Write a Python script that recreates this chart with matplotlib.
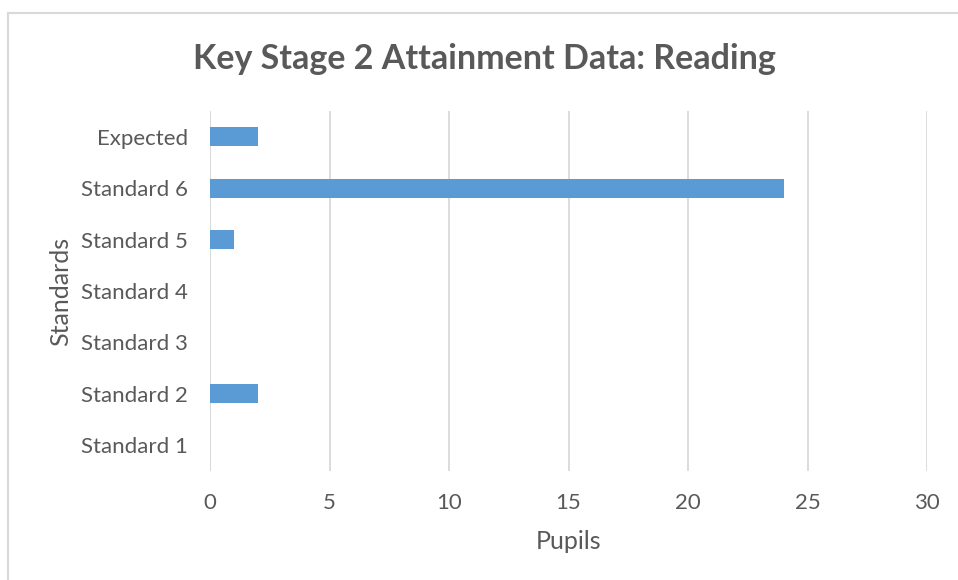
import numpy as np
import matplotlib.pyplot as plt
from matplotlib.lines import Line2D

# Datos
categorias = ["Standard 1", "Standard 2", "Standard 3", "Standard 4",
              "Standard 5", "Standard 6", "Expected"]
alumnos = [0, 2, 0, 0, 1, 24, 2]
ticks_x = [0, 5, 10, 15, 20, 25, 30]

plt.rcParams['font.family'] = ['Lato', 'DejaVu Sans']
gris_texto = "#595959"
azul = "#5B9BD5"

fig = plt.figure(figsize=(9.58, 5.8), dpi=100)
ax = fig.add_axes([210 / 958, 109 / 580, 717 / 958, 360 / 580])

y = np.arange(len(categorias))
ax.barh(y, alumnos, height=0.37, color=azul, zorder=3)

ax.set_xlim(0, 30)
ax.set_ylim(-0.5, len(categorias) - 0.5)
ax.set_xticks(ticks_x)
ax.set_yticks(y)
ax.set_yticklabels(categorias)
ax.grid(axis="x", color="#D9D9D9", linewidth=1.3, zorder=0)
for s in ax.spines.values():
    s.set_visible(False)
ax.axvline(0, color="#D9D9D9", linewidth=1.3, zorder=1)
ax.tick_params(length=0, labelsize=16, colors=gris_texto)
ax.tick_params(axis="x", pad=16)
ax.tick_params(axis="y", pad=16)

ax.set_xlabel("Pupils", fontsize=18, color=gris_texto, labelpad=12)
ax.set_ylabel("Standards", fontsize=18, color=gris_texto, labelpad=6)
fig.text(484 / 958, 1 - 59 / 580, "Key Stage 2 Attainment Data: Reading",
         ha="center", va="center", fontsize=24.5, fontweight="bold", color=gris_texto)

# marco del grafico (solo arriba e izquierda visibles)
fig.add_artist(Line2D([8 / 958, 1], [1 - 13 / 580, 1 - 13 / 580],
                      transform=fig.transFigure, color="#D9D9D9", linewidth=1.5))
fig.add_artist(Line2D([8 / 958, 8 / 958], [0, 1 - 13 / 580],
                      transform=fig.transFigure, color="#D9D9D9", linewidth=1.5))

fig.savefig("out.png", dpi=100)
